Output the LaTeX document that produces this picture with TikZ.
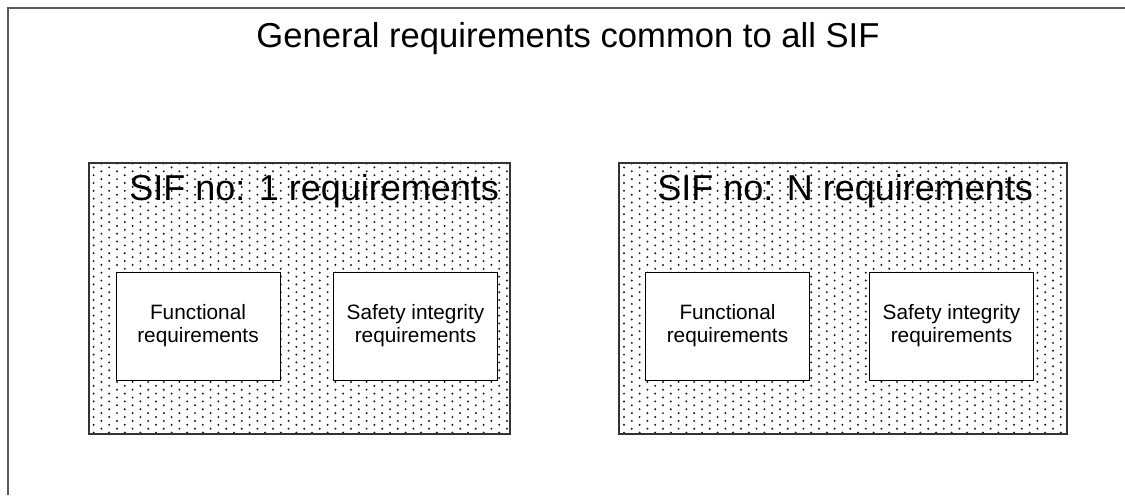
\documentclass[tikz,border=0pt]{standalone}
\usepackage{fontspec}
\setmainfont{Liberation Sans}
\usetikzlibrary{patterns}
\pgfdeclarepatternformonly{sifdots}{\pgfqpoint{-0.6pt}{-0.6pt}}{\pgfqpoint{4.5pt}{2.6pt}}{\pgfqpoint{7.8pt}{3.9pt}}{
  \pgfpathcircle{\pgfqpoint{0pt}{0pt}}{0.55pt}
  \pgfpathcircle{\pgfqpoint{3.9pt}{1.95pt}}{0.55pt}
  \pgfusepath{fill}
}
\tikzset{
  frameline/.style={draw=black!65, line width=0.7pt},
  reqbox/.style={draw=black!80, line width=0.6pt, pattern=sifdots, pattern color=black!90,
    minimum height=135.5pt, inner sep=0pt},
  subbox/.style={draw=black, line width=0.5pt, fill=white, align=center,
    minimum width=82pt, minimum height=54pt, inner sep=0pt,
    font=\fontsize{10.4}{11.5}\selectfont},
  headtext/.style={font=\fontsize{17.3}{20}\selectfont, inner sep=0pt},
  boxtext/.style={font=\fontsize{18}{21}\selectfont, inner sep=0pt, anchor=base west},
}
\begin{document}
\begin{tikzpicture}[x=0.5pt, y=-0.5pt]
    \useasboundingbox (0,0) rectangle (1125,495);
    \draw[frameline] (8,495) -- (8,8) -- (1125,8);
    \node[headtext, anchor=base] (common) at (568,47) {General requirements common to all SIF};

    \node[reqbox, minimum width=210.5pt] (sif1) at (299.5,298.5) {};
    \node[reqbox, minimum width=224pt] (sifN) at (843,298.5) {};
    \node[boxtext] (sif1head) at (129,200) {SIF no: 1 requirements};
    \node[boxtext] (sifNhead) at (657,200) {SIF no: N requirements};

    \node[subbox] (func1) at (198,326) {Functional\\requirements};
    \node[subbox] (safe1) at (415.5,326) {Safety integrity\\requirements};
    \node[subbox] (funcN) at (727.5,326) {Functional\\requirements};
    \node[subbox] (safeN) at (951.5,326) {Safety integrity\\requirements};
  \end{tikzpicture}
\end{document}
